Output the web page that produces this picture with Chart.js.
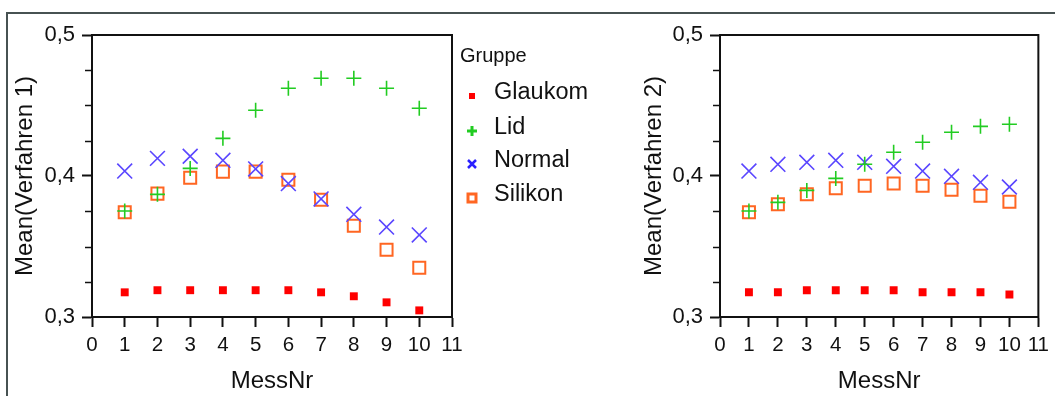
<!DOCTYPE html>
<html>
<head>
<meta charset="utf-8">
<script src="https://cdn.jsdelivr.net/npm/chart.js@4/dist/chart.umd.min.js"></script>
<style>
  html, body { margin: 0; padding: 0; background: #fff; }
  body { width: 1055px; height: 396px; position: relative; overflow: hidden; font-family: 'Liberation Sans', Arial, sans-serif; }
  #frame { position: absolute; left: 6px; top: 12px; width: 1100px; height: 500px; border-top: 2px solid #475252; border-left: 2px solid #475252; }
  canvas { position: absolute; top: 0; }
  #c1 { left: 0; }
  #c2 { left: 640px; }
  #legend { position: absolute; left: 0; top: 0; }
  .lg { position: absolute; white-space: nowrap; color: #111; }
  .title { left: 460px; top: 43px; font-size: 20px; line-height: 24px; }
  .item { left: 494px; font-size: 23.5px; line-height: 26px; }
  .mk { position: absolute; }
</style>
</head>
<body>
<div id="frame"></div>
<canvas id="c1" width="470" height="396"></canvas>
<canvas id="c2" width="415" height="396"></canvas>
<div id="legend"></div>
<script>
// ---- data ----
const groups = ['Glaukom', 'Lid', 'Normal', 'Silikon'];
const messNr = [1, 2, 3, 4, 5, 6, 7, 8, 9, 10];
const xTicks = [0, 1, 2, 3, 4, 5, 6, 7, 8, 9, 10, 11];
const yTickLabels = ['0,3', '0,4', '0,5'];

const glaukom1 = [0.3175, 0.319, 0.319, 0.319, 0.319, 0.319, 0.3175, 0.3147, 0.3104, 0.3047];
const lid1     = [0.3752, 0.387, 0.4054, 0.4267, 0.4466, 0.4622, 0.4693, 0.4693, 0.4622, 0.448];
const normal1  = [0.4035, 0.4125, 0.414, 0.4111, 0.405, 0.3946, 0.3837, 0.3728, 0.3638, 0.3582];
const silikon1 = [0.3743, 0.3875, 0.3988, 0.4031, 0.4031, 0.3974, 0.3832, 0.3647, 0.3477, 0.335];

const glaukom2 = [0.3175, 0.3175, 0.319, 0.319, 0.319, 0.319, 0.3175, 0.3175, 0.3175, 0.316];
const lid2     = [0.3752, 0.3813, 0.3898, 0.3983, 0.4083, 0.4168, 0.4239, 0.431, 0.4352, 0.4367];
const normal2  = [0.4035, 0.4083, 0.4097, 0.4111, 0.4097, 0.4069, 0.4035, 0.3998, 0.3955, 0.3922];
const silikon2 = [0.3743, 0.3799, 0.387, 0.3913, 0.3931, 0.3946, 0.3931, 0.3903, 0.386, 0.3818];

// ---- styles ----
const FONT = "'Liberation Sans', Arial, sans-serif";
const colors = { Glaukom: '#ff0000', Lid: '#22cc22', Normal: '#5a46ff', Silikon: '#ff6622' };
const styles = {
  Glaukom: { pointStyle: 'rect', radius: 5.6, borderWidth: 0, fill: true },
  Lid:     { pointStyle: 'cross', radius: 7.5, borderWidth: 1.6, fill: false },
  Normal:  { pointStyle: 'crossRot', radius: 10.5, borderWidth: 1.6, fill: false },
  Silikon: { pointStyle: 'rect', radius: 8.5, borderWidth: 2, fill: false }
};

function makeDatasets(series) {
  return groups.map((g, i) => ({
    label: g,
    data: messNr.map((x, j) => ({ x: x, y: series[i][j] })),
    pointStyle: styles[g].pointStyle,
    pointRadius: styles[g].radius,
    pointHoverRadius: styles[g].radius,
    pointBorderWidth: styles[g].borderWidth,
    pointBorderColor: colors[g],
    pointBackgroundColor: styles[g].fill ? colors[g] : 'rgba(0,0,0,0)',
    showLine: false
  }));
}

const minorTicks = {
  id: 'minorTicksBox',
  afterDraw(chart) {
    const { ctx, chartArea } = chart;
    const ys = chart.scales.y;
    ctx.save();
    ctx.strokeStyle = '#111';
    ctx.lineWidth = 2;
    ctx.strokeRect(chartArea.left, chartArea.top, chartArea.right - chartArea.left, chartArea.bottom - chartArea.top);
    ctx.lineWidth = 1.5;
    ys.ticks.forEach(t => {
      const v = Math.round(t.value * 1000) / 1000;
      if (Math.abs(v * 10 - Math.round(v * 10)) > 1e-6) {
        const py = Math.round(ys.getPixelForValue(t.value)) + 0.5;
        ctx.beginPath();
        ctx.moveTo(chartArea.left - 7, py);
        ctx.lineTo(chartArea.left, py);
        ctx.stroke();
      }
    });
    ctx.restore();
  }
};

function makeChart(id, series, yTitle, rightPad) {
  return new Chart(document.getElementById(id), {
    type: 'scatter',
    data: { datasets: makeDatasets(series) },
    options: {
      responsive: false,
      animation: false,
      devicePixelRatio: 1,
      layout: { padding: { top: 35, right: rightPad, left: 0, bottom: 0 } },
      plugins: { legend: { display: false }, tooltip: { enabled: false } },
      events: [],
      scales: {
        x: {
          type: 'linear', min: 0, max: 11,
          afterBuildTicks: s => { s.ticks = xTicks.map(v => ({ value: v })); },
          afterFit: s => { s.height = 79; },
          ticks: { stepSize: 1, padding: 6, color: '#111', font: { family: FONT, size: 20.5 }, maxRotation: 0, autoSkip: false },
          grid: { drawOnChartArea: false, drawTicks: true, tickLength: 10, tickColor: '#111', tickWidth: 2 },
          border: { display: true, color: '#111', width: 2 },
          title: { display: true, text: 'MessNr', color: '#111', font: { family: FONT, size: 24 }, padding: { top: 0, bottom: 0 } }
        },
        y: {
          type: 'linear', min: 0.3, max: 0.5,
          afterFit: s => { s.width = id === 'c1' ? 92 : 80; },
          ticks: {
            stepSize: 0.025, padding: 7, color: '#111', font: { family: FONT, size: 22 },
            callback: v => {
              const k = Math.round(v * 1000);
              if (k === 300) return yTickLabels[0];
              if (k === 400) return yTickLabels[1];
              if (k === 500) return yTickLabels[2];
              return '';
            }
          },
          grid: {
            drawOnChartArea: false, drawTicks: true, tickLength: 10, tickWidth: 2,
            tickColor: c => { const k = Math.round(c.tick.value * 1000); return (k % 100 === 0) ? '#111' : 'rgba(0,0,0,0)'; }
          },
          border: { display: true, color: '#111', width: 2 },
          title: { display: true, text: yTitle, color: '#111', font: { family: FONT, size: 24 }, padding: { top: id === 'c1' ? 11 : 0, bottom: 0 } }
        }
      }
    },
    plugins: [minorTicks]
  });
}

makeChart('c1', [glaukom1, lid1, normal1, silikon1], 'Mean(Verfahren 1)', 18);
makeChart('c2', [glaukom2, lid2, normal2, silikon2], 'Mean(Verfahren 2)', 15);

// ---- legend ----
const legend = document.getElementById('legend');
const t = document.createElement('div');
t.className = 'lg title'; t.textContent = 'Gruppe';
legend.appendChild(t);
const itemY = [91, 126, 159, 193];
const markerSvg = {
  Glaukom: '<rect x="3" y="3" width="6" height="6" fill="#ff0000"/>',
  Lid: '<path d="M6 1 V11 M1 6 H11" stroke="#22cc22" stroke-width="3"/>',
  Normal: '<path d="M2 2 L10 10 M10 2 L2 10" stroke="#2a20ff" stroke-width="2.5"/>',
  Silikon: '<rect x="2" y="2" width="8" height="8" fill="none" stroke="#ff6622" stroke-width="3"/>'
};
groups.forEach((g, i) => {
  const d = document.createElement('div');
  d.className = 'lg item';
  d.style.top = (itemY[i] - 13) + 'px';
  d.textContent = g;
  legend.appendChild(d);
  const m = document.createElement('div');
  m.className = 'mk';
  m.style.left = '466px';
  m.style.top = (itemY[i] - 3) + 'px';
  m.innerHTML = '<svg width="12" height="12" viewBox="0 0 12 12">' + markerSvg[g] + '</svg>';
  legend.appendChild(m);
});
</script>
</body>
</html>
